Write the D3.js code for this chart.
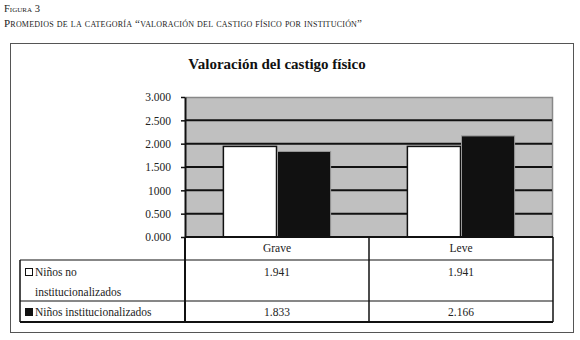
<!DOCTYPE html>
<meta charset="utf-8">
<script src="https://d3js.org/d3.v7.min.js"></script>
<style>
  body { margin: 0; background: #fff; }
</style>
<div id="my_dataviz"></div>
<script>
// data
var categories = ["Grave", "Leve"];
var seriesNames = ["Niños no institucionalizados", "Niños institucionalizados"];
var noInst = [1.941, 1.941];
var inst = [1.833, 2.166];
var tickValues = [0, 0.5, 1, 1.5, 2, 2.5, 3];
var tickLabels = ["0.000", "0.500", "1000", "1.500", "2.000", "2.500", "3.000"];
var seriesValues = [noInst, inst];
var seriesFill = ["#ffffff", "#111111"];

var W = 580, H = 340;
var plot = {left: 185, right: 553, top: 97, bottom: 237};
var serif = "'Liberation Serif', 'Times New Roman', 'DejaVu Serif', serif";

var svg = d3.select("#my_dataviz")
  .append("svg")
    .attr("width", W)
    .attr("height", H)
    .style("font-family", serif);

function label(g, x, y, size, txt) {
  return g.append("text")
    .attr("x", x).attr("y", y)
    .style("font-family", serif)
    .style("font-size", size + "px")
    .attr("fill", "#222")
    .text(txt);
}

// figure caption
label(svg, 4, 12, 10.5, "Figura 3").style("font-variant", "small-caps");
label(svg, 4, 27, 11, "Promedios de la categoría “valoración del castigo físico por institución”")
  .style("font-variant", "small-caps")
  .attr("textLength", 358);

// outer frame
svg.append("rect")
  .attr("x", 10.5).attr("y", 43.5)
  .attr("width", 563).attr("height", 289)
  .attr("fill", "none")
  .attr("stroke", "#555")
  .attr("stroke-width", 1);

// title
label(svg, 277, 69, 15, "Valoración del castigo físico")
  .attr("text-anchor", "middle")
  .style("font-weight", "bold")
  .attr("fill", "#111");

// scales
var x0 = d3.scaleBand()
  .domain(categories)
  .range([plot.left, plot.right]);
var x1 = d3.scaleBand()
  .domain(d3.range(seriesNames.length))
  .range([0, x0.bandwidth()])
  .paddingOuter(0.7);
var y = d3.scaleLinear()
  .domain([0, 3])
  .range([plot.bottom, plot.top]);

// plot background
svg.append("rect")
  .attr("x", plot.left).attr("y", plot.top)
  .attr("width", plot.right - plot.left)
  .attr("height", plot.bottom - plot.top)
  .attr("fill", "#c0c0c0");
svg.append("path")
  .attr("d", "M" + plot.left + "," + (plot.top + 0.5) + "H" + (plot.right - 0.5) + "V" + plot.bottom)
  .attr("fill", "none")
  .attr("stroke", "#888")
  .attr("stroke-width", 1.5);

// gridlines
svg.append("g")
  .selectAll("line")
  .data(tickValues.filter(function(d) { return d > 0 && d < 3; }))
  .enter().append("line")
    .attr("x1", plot.left).attr("x2", plot.right - 1)
    .attr("y1", function(d) { return y(d); })
    .attr("y2", function(d) { return y(d); })
    .attr("stroke", "#111")
    .attr("stroke-width", 2);

// bars
var groups = svg.append("g")
  .selectAll("g")
  .data(categories)
  .enter().append("g")
    .attr("transform", function(d) { return "translate(" + x0(d) + ",0)"; });

groups.selectAll("rect")
  .data(function(d, i) { return seriesValues.map(function(s, k) { return {k: k, v: s[i]}; }); })
  .enter().append("rect")
    .attr("x", function(d) { return x1(d.k) + 0.5; })
    .attr("y", function(d) { return y(d.v); })
    .attr("width", x1.bandwidth() - 1)
    .attr("height", function(d) { return plot.bottom - y(d.v); })
    .attr("fill", function(d) { return seriesFill[d.k]; })
    .attr("stroke", function(d) { return d.k === 0 ? "#111" : "#999"; })
    .attr("stroke-width", function(d) { return d.k === 0 ? 1.5 : 1; });

// y axis
var yAxis = d3.axisLeft(y)
  .tickValues(tickValues)
  .tickFormat(function(d, i) { return tickLabels[i]; })
  .tickSize(4)
  .tickSizeOuter(0);
var ya = svg.append("g")
  .attr("transform", "translate(" + plot.left + ",0)")
  .call(yAxis)
  .attr("font-family", null)
  .attr("font-size", null);
ya.select(".domain").attr("stroke", "#111").attr("stroke-width", 2);
ya.selectAll(".tick line").attr("stroke", "#111").attr("stroke-width", 1.5);
ya.selectAll(".tick text")
  .attr("x", -14)
  .style("font-size", "11.5px")
  .style("font-family", serif)
  .attr("fill", "#222");

// data table
var rowTop = [237, 260, 301, 322];
var table = svg.append("g");
table.append("line")
  .attr("x1", plot.left).attr("x2", plot.right)
  .attr("y1", plot.bottom).attr("y2", plot.bottom)
  .attr("stroke", "#111").attr("stroke-width", 2);
[rowTop[1], rowTop[2], rowTop[3]].forEach(function(yy, i) {
  table.append("line")
    .attr("x1", 20).attr("x2", plot.right)
    .attr("y1", yy).attr("y2", yy)
    .attr("stroke", "#111").attr("stroke-width", i === 2 ? 2 : 1.2);
});
table.append("line")
  .attr("x1", 20).attr("x2", 20)
  .attr("y1", rowTop[1]).attr("y2", rowTop[3])
  .attr("stroke", "#111").attr("stroke-width", 1.5);
table.append("line")
  .attr("x1", plot.left).attr("x2", plot.left)
  .attr("y1", plot.bottom).attr("y2", rowTop[3])
  .attr("stroke", "#111").attr("stroke-width", 2);
categories.forEach(function(c) {
  var xr = x0(c) + x0.bandwidth();
  table.append("line")
    .attr("x1", xr).attr("x2", xr)
    .attr("y1", plot.bottom).attr("y2", rowTop[3])
    .attr("stroke", "#111").attr("stroke-width", 1.5);
});

// header labels
categories.forEach(function(c) {
  label(table, x0(c) + x0.bandwidth() / 2, 252, 11.5, c).attr("text-anchor", "middle");
});

// values
var rowTextY = [276, 316];
seriesValues.forEach(function(s, k) {
  s.forEach(function(v, i) {
    label(table, x0(categories[i]) + x0.bandwidth() / 2, rowTextY[k], 11.5, d3.format(".3f")(v))
      .attr("text-anchor", "middle");
  });
});

// legend keys and series names
seriesNames.forEach(function(name, k) {
  table.append("rect")
    .attr("x", 25.5).attr("y", rowTextY[k] - 7.5)
    .attr("width", 7).attr("height", 7)
    .attr("fill", seriesFill[k])
    .attr("stroke", "#111").attr("stroke-width", 1);
});
label(table, 35, rowTextY[0], 11.5, "Niños no");
label(table, 35, 296, 11.5, "institucionalizados");
label(table, 35, rowTextY[1], 11.5, seriesNames[1]);
</script>
